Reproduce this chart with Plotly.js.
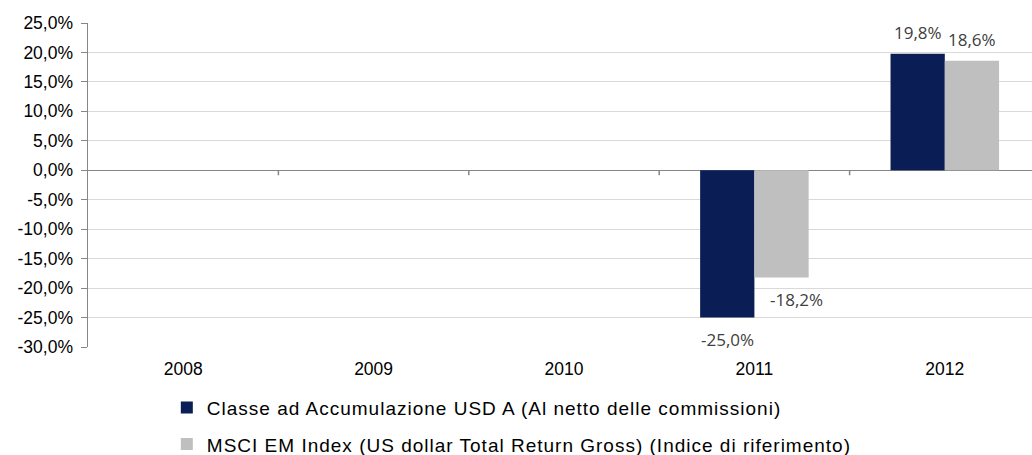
<!DOCTYPE html>
<html>
<head>
<meta charset="utf-8">
<script src="https://cdn.plot.ly/plotly-3.0.1.min.js"></script>
<style>html,body{margin:0;padding:0;background:#fff;}#chart{width:1032px;height:455px;}
.legendtext{letter-spacing:1px;}</style>
</head>
<body>
<div id="chart"></div>
<script>
const years = ['2008', '2009', '2010', '2011', '2012'];
const fundName = 'Classe ad Accumulazione USD A (Al netto delle commissioni)';
const indexName = 'MSCI EM Index (US dollar Total Return Gross) (Indice di riferimento)';
const fundValues = [null, null, null, -25.0, 19.8];
const indexValues = [null, null, null, -18.2, 18.6];
const yTickVals = [-30, -25, -20, -15, -10, -5, 0, 5, 10, 15, 20, 25];

const fmt = v => v.toFixed(1).replace('.', ',') + '%';

const traces = [
  {type: 'bar', name: fundName, x: years, y: fundValues, marker: {color: '#0A1E55'}, legendgroup: 'a', hoverinfo: 'skip'},
  {type: 'bar', name: indexName, x: years, y: indexValues, marker: {color: '#BFBFBF'}, legendgroup: 'b', hoverinfo: 'skip'}
];

const annotations = [];
const series = [{vals: fundValues, dx: -27}, {vals: indexValues, dx: 27}];
series.forEach(function (s) {
  s.vals.forEach(function (v, i) {
    if (v === null) return;
    annotations.push({
      x: i, y: v, xref: 'x', yref: 'y', text: fmt(v), showarrow: false,
      xshift: s.dx + ((v < 0 && s.dx > 0) ? 15 : 0), yshift: v >= 0 ? 21 : -22,
      font: {family: 'Open Sans, Noto Sans, sans-serif', size: 17, color: '#404040'}
    });
  });
});

// small tick marks on the zero line between categories
const shapes = [];
for (let i = 0; i < years.length - 1; i++) {
  shapes.push({type: 'line', xref: 'x', yref: 'y', x0: i + 0.5, x1: i + 0.5,
    ysizemode: 'pixel', yanchor: 0, y0: 0, y1: -5,
    line: {color: '#868686', width: 1.5}});
}

const layout = {
  width: 1032, height: 455,
  margin: {l: 88, r: 0, t: 23, b: 108},
  paper_bgcolor: '#fff', plot_bgcolor: '#fff',
  barmode: 'group', bargap: 0.43, bargroupgap: 0,
  showlegend: true,
  legend: {x: 0.0835, xanchor: 'left', xref: 'paper', y: 0.146, yref: 'container', yanchor: 'top',
    orientation: 'v', traceorder: 'grouped', tracegroupgap: 9, itemwidth: 30,
    font: {family: 'Liberation Sans, Arial, sans-serif', size: 19, color: '#000'}},
  font: {family: 'Liberation Sans, Arial, sans-serif', size: 17.5, color: '#000'},
  xaxis: {type: 'category', range: [-0.5, 4.458], showline: false, ticks: '', showgrid: false,
    zeroline: false, tickfont: {size: 17.5}, ticklabelstandoff: 9, fixedrange: true},
  yaxis: {range: [-30, 25], tickvals: yTickVals, ticktext: yTickVals.map(fmt),
    showline: true, linecolor: '#868686', linewidth: 1.5, ticks: 'outside', ticklen: 6,
    tickcolor: '#868686', showgrid: true, gridcolor: '#D9D9D9', gridwidth: 1,
    zeroline: true, zerolinecolor: '#868686', zerolinewidth: 1.5,
    ticklabelstandoff: 4, tickfont: {size: 17.5}, fixedrange: true},
  annotations: annotations,
  shapes: shapes
};

Plotly.newPlot('chart', traces, layout, {displayModeBar: false, staticPlot: true});
</script>
</body>
</html>
